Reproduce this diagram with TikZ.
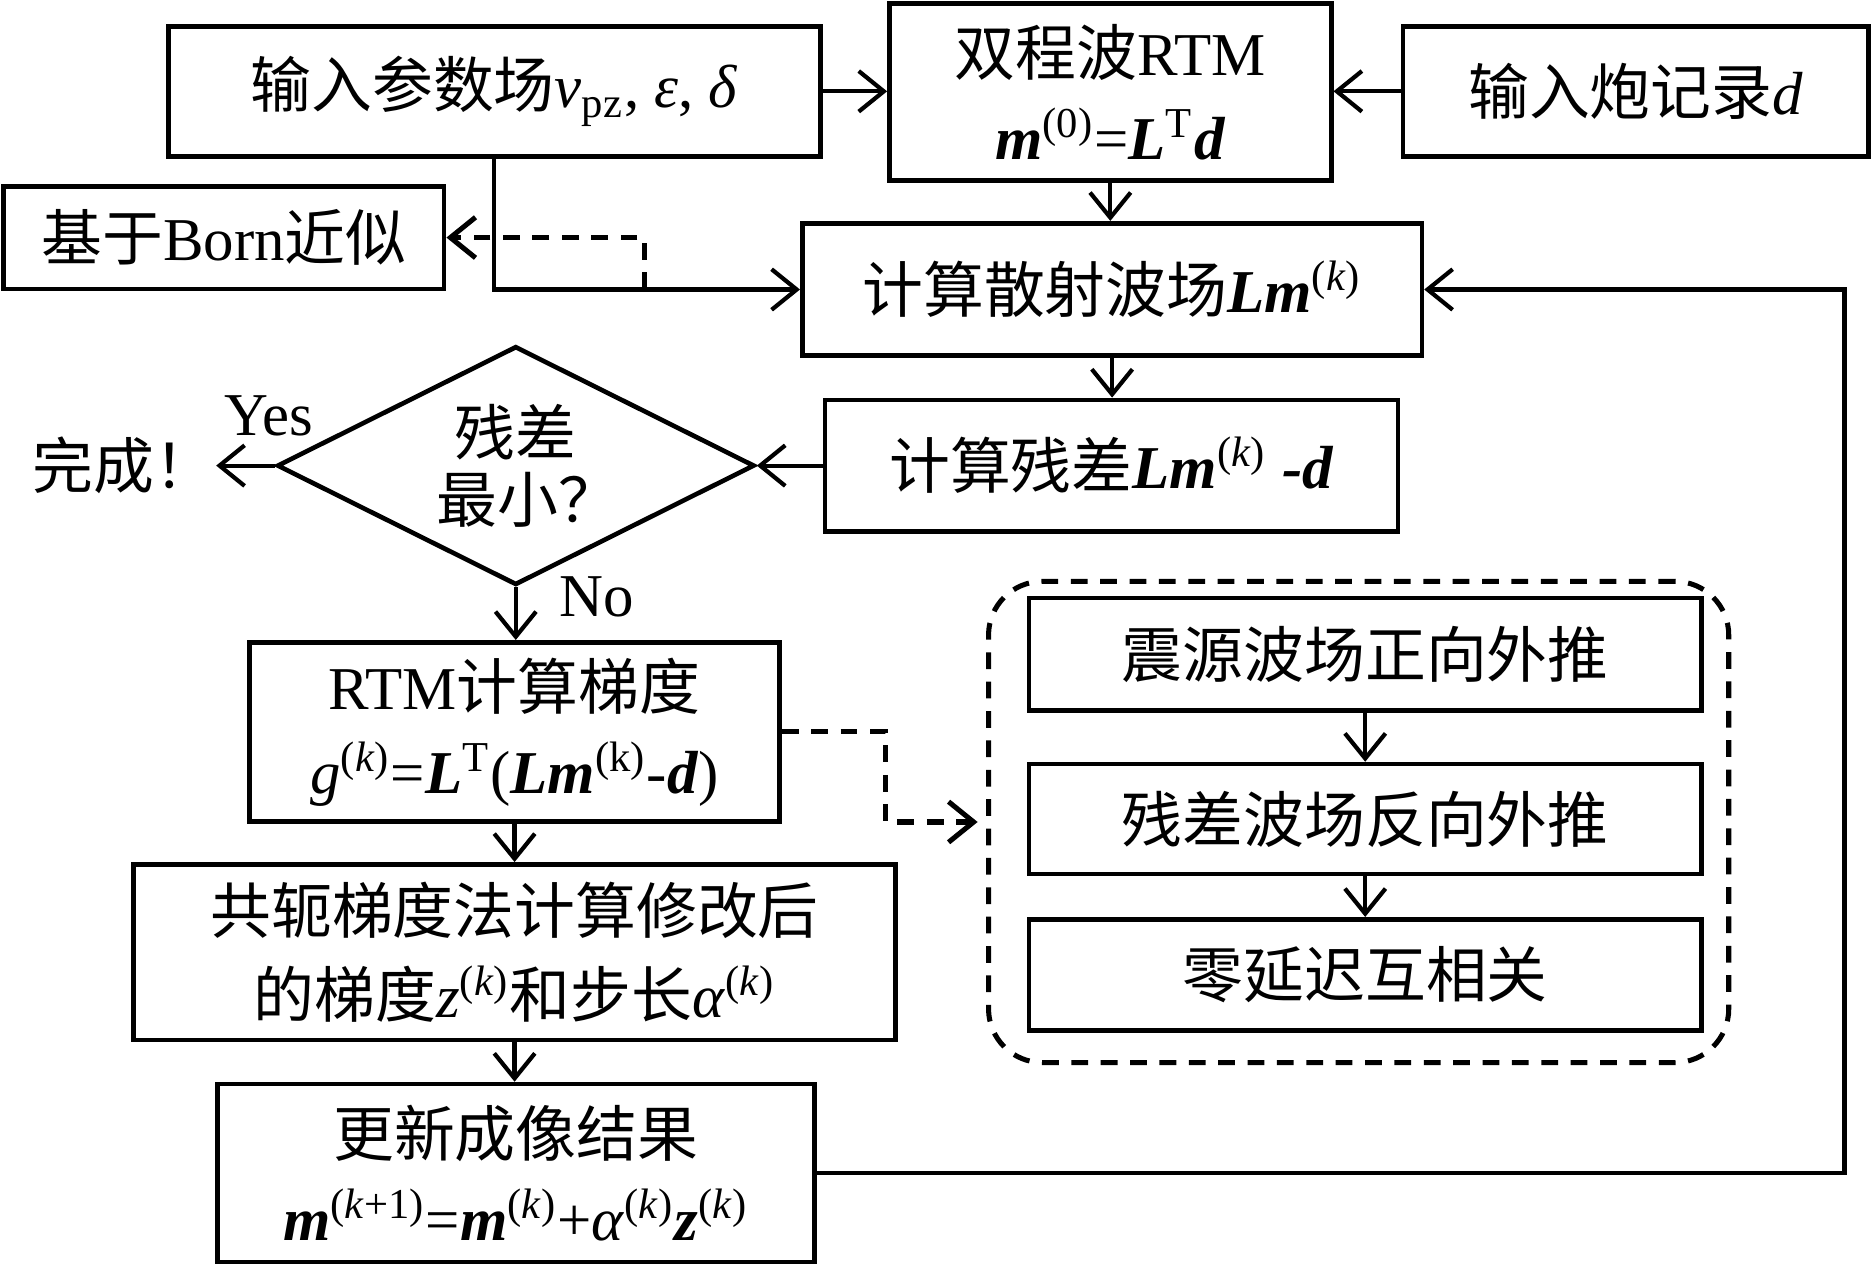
\documentclass[tikz,border=0pt]{standalone}
\usepackage{fontspec}
\setmainfont{Liberation Serif}
\newfontfamily\cjk{Noto Sans CJK SC}
\usetikzlibrary{shapes.geometric, arrows.meta, positioning, calc}
\newcommand{\bi}[1]{\textbf{\textit{#1}}}

\begin{document}
\begin{tikzpicture}[
  font=\fontsize{14.5}{20}\selectfont,
  >={Straight Barb[length=2.1mm,width=3.4mm]},
  box/.style={draw, line width=1.1pt, align=center, inner sep=0pt},
  link/.style={->, line width=1pt},
  dashlink/.style={->, line width=1.2pt, dash pattern=on 4pt off 3pt},
]
\useasboundingbox (0,0) rectangle (15.68,-10.60);

% Input and initial RTM
\node[box, minimum width=5.46cm, minimum height=1.09cm] (inp) at (4.14,-0.765)
  {{\cjk 输入参数场}\textit{v}\textsubscript{pz}, \textit{ε}, \textit{δ}};
\node[box, minimum width=3.70cm, minimum height=1.48cm] (rtm) at (9.30,-0.77)
  {{\cjk 双程波}RTM\\ \bi{m}\textsuperscript{(0)}=\bi{L}\textsuperscript{T}\bi{d}};
\node[box, minimum width=3.90cm, minimum height=1.09cm] (shot) at (13.70,-0.765)
  {{\cjk 输入炮记录}\textit{d}};
\node[box, minimum width=3.69cm, minimum height=0.86cm] (born) at (1.875,-1.99)
  {{\cjk 基于}Born{\cjk 近似}};

% Scattered field and residual
\node[box, minimum width=5.19cm, minimum height=1.11cm] (scat) at (9.315,-2.425)
  {{\cjk 计算散射波场}\bi{Lm}\textsuperscript{(\textit{k})}};
\node[box, minimum width=4.80cm, minimum height=1.10cm] (resid) at (9.31,-3.90)
  {{\cjk 计算残差}\bi{Lm}\textsuperscript{(\textit{k})} \bi{-d}};

% Decision
\node[draw, diamond, aspect=2, line width=1.1pt, inner sep=0pt, align=center,
  minimum width=4.00cm, minimum height=2.00cm, font=\fontsize{14.5}{16}\selectfont] (dia) at (4.32,-3.90)
  {{\cjk 残差}\\\hspace{0.2cm}{\cjk 最小？}};
\node[left=0.49cm of dia, inner sep=0pt] (done) {{\cjk 完成！}};
\node (yes) at (2.25,-3.48) {Yes};
\node (no) at (5.00,-5.00) {No};

% Gradient and update
\node[box, minimum width=4.44cm, minimum height=1.50cm] (grad) at (4.31,-6.13)
  {RTM{\cjk 计算梯度}\\ \textit{g}\textsuperscript{(\textit{k})}=\bi{L}\textsuperscript{T}(\bi{Lm}\textsuperscript{(k)}-\bi{d})};
\node[box, minimum width=6.38cm, minimum height=1.47cm] (cg) at (4.31,-7.975)
  {{\cjk 共轭梯度法计算修改后}\\{\cjk 的梯度}\textit{z}\textsuperscript{(\textit{k})}{\cjk 和步长}\textit{α}\textsuperscript{(\textit{k})}};
\node[box, minimum width=5.00cm, minimum height=1.49cm] (upd) at (4.32,-9.825)
  {{\cjk 更新成像结果}\\ \bi{m}\textsuperscript{(\textit{k}+1)}=\bi{m}\textsuperscript{(\textit{k})}+\textit{α}\textsuperscript{(\textit{k})}\bi{z}\textsuperscript{(\textit{k})}};

% RTM gradient steps
\node[draw, line width=1.2pt, dash pattern=on 4pt off 3pt, rounded corners=0.45cm,
  minimum width=6.20cm, minimum height=4.03cm] (grp) at (11.38,-6.885) {};
\node[box, minimum width=5.63cm, minimum height=0.94cm] (src) at (11.435,-5.48) {{\cjk 震源波场正向外推}};
\node[box, minimum width=5.63cm, minimum height=0.92cm] (back) at (11.435,-6.86) {{\cjk 残差波场反向外推}};
\node[box, minimum width=5.63cm, minimum height=0.93cm] (xcorr) at (11.435,-8.165) {{\cjk 零延迟互相关}};

% Connectors
\draw[link] (inp.east) -- (inp.east -| rtm.west);
\draw[link] (shot.west) -- (shot.west -| rtm.east);
\draw[link] (rtm.south) -- (rtm.south |- scat.north);
\draw[link] (inp.south) |- (scat.west);
\coordinate (split) at (5.40,-2.42);
\draw[dashlink] (split) |- (born.east);
\draw[link] (scat.south) -- (scat.south |- resid.north);
\draw[link] (resid.west) -- (dia.east);
\draw[link] (dia.west) -- (done.east);
\draw[link] (dia.south) -- (dia.south |- grad.north);
\draw[link] (grad.south) -- (grad.south |- cg.north);
\draw[link] (cg.south) -- (cg.south |- upd.north);
\coordinate (loop) at (15.45,-9.825);
\draw[link] (upd.east) -- (loop) |- (scat.east);
\draw[dashlink, shorten >=2pt] (grad.east) -- ++(0.87,0) |- (grp.west);
\draw[link] (src.south) -- (back.north);
\draw[link] (back.south) -- (xcorr.north);
\end{tikzpicture}
\end{document}
